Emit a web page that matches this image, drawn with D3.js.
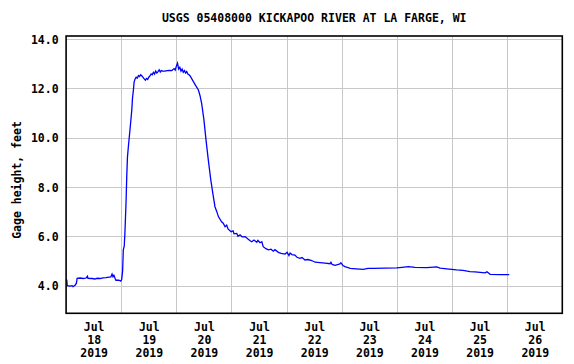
<!DOCTYPE html>
<html>
<head>
<meta charset="utf-8">
<script src="https://cdn.jsdelivr.net/npm/d3@7"></script>
<style>
  html, body { margin: 0; padding: 0; background: #fff; }
  svg { display: block; }
  text { font-family: "DejaVu Sans Mono", "Liberation Mono", monospace; font-weight: bold; font-size: 11.5px; fill: #000; }
</style>
</head>
<body>
<svg id="chart" width="574" height="364"></svg>
<script>
// ---- data ----
const chartTitle = "USGS 05408000 KICKAPOO RIVER AT LA FARGE, WI";
const yAxisTitle = "Gage height, feet";
const startDate = Date.UTC(2019, 6, 18, 0, 0);   // Jul 18 2019 00:00
const endDate = Date.UTC(2019, 6, 27, 0, 0);     // Jul 27 2019 00:00

// hours since Jul 18 00:00
const hoursSinceStart = [
  0, 0.3, 0.5, 1.7, 2.6, 3.0, 3.9, 4.5, 4.8, 6.1, 7.4, 8.7, 9.3, 9.5, 11.3, 12.6, 13.5, 14.8, 16.1, 17.4,
  18.7, 19.5, 20.0, 20.4, 20.8, 21.3, 21.7, 23.0, 23.8, 24.2, 24.6, 24.9, 25.3, 25.6, 26.1, 26.4, 26.7, 27.1, 27.8, 28.6,
  28.9, 29.3, 29.6, 30.0, 30.5, 31.0, 31.5, 32.0, 32.5, 33.0, 33.5, 34.0, 34.5, 35.0, 35.5, 36.0, 36.5, 37.0, 37.5, 38.0,
  38.5, 39.0, 39.5, 40.0, 40.5, 41.0, 41.5, 42.0, 43.0, 44.0, 45.0, 46.0, 47.0, 47.5, 48.0, 48.5, 49.0, 49.5, 50.0, 50.5,
  51.0, 51.5, 52.0, 52.5, 53.0, 53.5, 54.0, 55.4, 56.5, 57.6, 58.3, 59.0, 60.0, 60.9, 61.9, 63.0, 64.1, 64.8, 65.6, 66.3,
  67.7, 68.4, 69.2, 69.9, 70.5, 71.8, 72.7, 73.1, 74.3, 74.8, 75.7, 76.6, 77.9, 79.3, 80.1, 80.8, 81.8, 83.0, 83.5, 84.4,
  85.2, 85.8, 87.0, 88.0, 89.2, 90.2, 90.9, 92.4, 93.6, 95.3, 96.2, 97.0, 97.5, 98.3, 99.6, 100.5, 101.8, 102.7, 104.0, 105.3,
  106.9, 108.4, 110.5, 112.7, 114.9, 115.3, 115.8, 117.1, 119.2, 119.6, 120.5, 121.4, 123.7, 126.2, 129.4, 131.4, 133.7, 138.8, 143.9, 146.2,
  149.0, 151.9, 157.0, 161.3, 162.8, 165.7, 170.0, 172.8, 175.8, 178.0, 180.2, 182.4, 183.2, 184.6, 189.0, 192.9
];
const gageHeight = [
  4.22, 4.22, 4.00, 3.98, 4.00, 3.96, 4.02, 4.10, 4.30, 4.31, 4.29, 4.31, 4.38, 4.30, 4.29, 4.27, 4.30, 4.29, 4.32, 4.33,
  4.35, 4.36, 4.47, 4.36, 4.42, 4.30, 4.22, 4.22, 4.18, 4.25, 4.60, 5.45, 5.60, 6.12, 7.40, 8.42, 9.20, 9.63, 10.31, 11.12,
  11.60, 11.93, 12.25, 12.37, 12.45, 12.42, 12.52, 12.48, 12.55, 12.50, 12.44, 12.38, 12.33, 12.40, 12.36, 12.45, 12.50, 12.58, 12.55, 12.65,
  12.58, 12.70, 12.62, 12.68, 12.75, 12.66, 12.72, 12.70, 12.70, 12.72, 12.73, 12.72, 12.80, 12.74, 12.90, 13.02, 12.78, 12.85, 12.70, 12.78,
  12.65, 12.72, 12.62, 12.68, 12.58, 12.55, 12.50, 12.27, 12.10, 11.93, 11.70, 11.39, 10.72, 9.91, 9.10, 8.28, 7.61, 7.20, 7.00, 6.80,
  6.59, 6.53, 6.39, 6.45, 6.30, 6.19, 6.22, 6.10, 6.12, 6.00, 6.06, 5.98, 5.99, 5.88, 5.82, 5.78, 5.85, 5.76, 5.84, 5.74,
  5.78, 5.58, 5.50, 5.45, 5.48, 5.40, 5.46, 5.35, 5.31, 5.28, 5.35, 5.22, 5.32, 5.26, 5.24, 5.15, 5.11, 5.14, 5.04, 5.06,
  5.02, 4.95, 4.93, 4.91, 4.89, 4.95, 4.86, 4.82, 4.88, 4.93, 4.82, 4.77, 4.70, 4.68, 4.66, 4.70, 4.70, 4.71, 4.72, 4.74,
  4.77, 4.74, 4.73, 4.76, 4.71, 4.68, 4.64, 4.62, 4.57, 4.56, 4.54, 4.52, 4.56, 4.46, 4.45, 4.45
];

const yTickValues = [4, 6, 8, 10, 12, 14];
const xLabelMonths = ["Jul", "Jul", "Jul", "Jul", "Jul", "Jul", "Jul", "Jul", "Jul"];
const xLabelDays = ["18", "19", "20", "21", "22", "23", "24", "25", "26"];
const xLabelYears = ["2019", "2019", "2019", "2019", "2019", "2019", "2019", "2019", "2019"];

// ---- layout ----
const plotLeft = 66.1, plotRight = 562.3, plotTop = 36, plotBottom = 313.3;
const svg = d3.select("#chart");

const x = d3.scaleUtc().domain([new Date(startDate), new Date(endDate)]).range([plotLeft, plotRight]);
const y = d3.scaleLinear().domain([2.88, 14.12]).range([plotBottom, plotTop]);

const HOUR = 3600 * 1000;
const points = hoursSinceStart.map((h, i) => ({ t: new Date(startDate + h * HOUR), v: gageHeight[i] }));

const dayMidnights = d3.range(1, 9).map(d => new Date(startDate + d * 24 * HOUR));
const dayNoons = xLabelDays.map((_, i) => new Date(startDate + (i * 24 + 12) * HOUR));

// grid lines
const grid = svg.append("g");
grid.selectAll("line.h").data(yTickValues).join("line")
  .attr("x1", plotLeft).attr("x2", plotRight)
  .attr("y1", d => Math.round(y(d)) + 0.5).attr("y2", d => Math.round(y(d)) + 0.5)
  .attr("stroke", "#c8c8c8").attr("stroke-width", 1);
grid.selectAll("line.v").data(dayMidnights).join("line")
  .attr("x1", d => Math.round(x(d)) + 0.5).attr("x2", d => Math.round(x(d)) + 0.5)
  .attr("y1", plotTop).attr("y2", plotBottom)
  .attr("stroke", "#c8c8c8").attr("stroke-width", 1);

// data line
const line = d3.line().x(d => x(d.t)).y(d => y(d.v));
svg.append("path").datum(points)
  .attr("d", line)
  .attr("fill", "none")
  .attr("stroke", "#0000ff")
  .attr("stroke-width", 1.3)
  .attr("stroke-linejoin", "miter");

// frame
svg.append("rect")
  .attr("x", plotLeft).attr("y", plotTop)
  .attr("width", plotRight - plotLeft).attr("height", plotBottom - plotTop)
  .attr("fill", "none").attr("stroke", "#000").attr("stroke-width", 1.6);

// y axis
const yAxis = d3.axisLeft(y).tickValues(yTickValues).tickSize(0).tickPadding(7.5)
  .tickFormat(d => d3.format(".1f")(d));
const gy = svg.append("g").attr("transform", `translate(${plotLeft},0)`).call(yAxis);
gy.select(".domain").remove();
gy.selectAll("text").attr("font-family", null).attr("font-size", null).attr("dy", "0.36em");

// x axis (labels at noon of each day, three lines)
const xAxis = d3.axisBottom(x).tickValues(dayNoons).tickSize(0).tickPadding(0).tickFormat(() => "");
const gx = svg.append("g").attr("transform", `translate(0,${plotBottom})`).call(xAxis);
gx.select(".domain").remove();
gx.selectAll(".tick text").each(function(d, i) {
  const t = d3.select(this).attr("font-family", null).attr("font-size", null).attr("y", 0).attr("dy", null);
  t.text(null);
  t.append("tspan").attr("x", 0).attr("y", 17.7).text(xLabelMonths[i]);
  t.append("tspan").attr("x", 0).attr("y", 30.7).text(xLabelDays[i]);
  t.append("tspan").attr("x", 0).attr("y", 43.7).text(xLabelYears[i]);
});

// titles
svg.append("text").attr("x", (plotLeft + plotRight) / 2).attr("y", 22).attr("text-anchor", "middle").text(chartTitle);
svg.append("text").attr("transform", `translate(21,180) rotate(-90)`).attr("text-anchor", "middle").text(yAxisTitle);
</script>
</body>
</html>
